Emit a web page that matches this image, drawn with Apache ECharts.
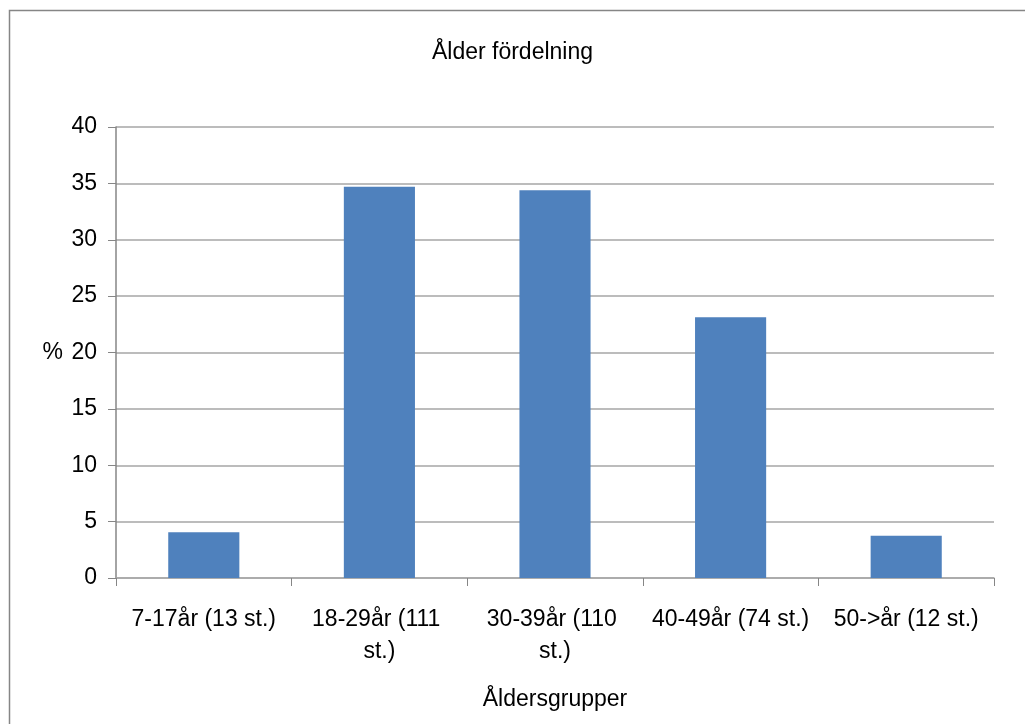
<!DOCTYPE html>
<html>
<head>
<meta charset="utf-8">
<script src="https://cdn.jsdelivr.net/npm/echarts@6/dist/echarts.min.js"></script>
<style>
html,body{margin:0;padding:0;background:#fff;}
#chart{width:1025px;height:724px;}
</style>
</head>
<body>
<div id="chart"></div>
<script>
const titleText = 'Ålder fördelning';
const categories = ['7-17år (13 st.)', '18-29år (111 st.)', '30-39år (110 st.)', '40-49år (74 st.)', '50->år (12 st.)'];
const percentValues = [4.06, 34.69, 34.38, 23.13, 3.75];
const yTicks = { min: 0, max: 40, interval: 5 };
const xAxisName = 'Åldersgrupper';
const yAxisName = '%';

const FONT = '"Liberation Sans", Arial, sans-serif';
const FS = 23;
const chart = echarts.init(document.getElementById('chart'), null, { renderer: 'canvas' });
chart.setOption({
  backgroundColor: '#ffffff',
  animation: false,
  title: {
    text: titleText,
    left: 'center',
    top: 36,
    textStyle: { fontFamily: FONT, fontSize: FS, fontWeight: 'normal', color: '#000' }
  },
  graphic: [{
    type: 'rect',
    shape: { x: 9.5, y: 10.5, width: 1100, height: 800 },
    style: { fill: 'none', stroke: '#868686', lineWidth: 1.5 },
    silent: true
  }],
  grid: { left: 116, right: 31, top: 127, bottom: 146, containLabel: false },
  xAxis: {
    type: 'category',
    data: categories,
    name: xAxisName,
    nameLocation: 'middle',
    nameGap: 110,
    nameTextStyle: { fontFamily: FONT, fontSize: FS, color: '#000' },
    axisLine: { lineStyle: { color: '#a6a6a6', width: 1.5 } },
    axisTick: { show: true, alignWithLabel: false, length: 8, lineStyle: { color: '#868686' } },
    axisLabel: {
      fontFamily: FONT, fontSize: FS, color: '#000',
      margin: 26, lineHeight: 32,
      width: 175, overflow: 'break', interval: 0
    }
  },
  yAxis: {
    type: 'value',
    min: yTicks.min, max: yTicks.max, interval: yTicks.interval,
    name: yAxisName,
    nameLocation: 'middle',
    nameRotate: 0,
    nameGap: 53,
    nameTextStyle: { fontFamily: FONT, fontSize: FS, color: '#000' },
    axisLine: { show: true, lineStyle: { color: '#868686', width: 1.5 } },
    axisTick: { show: true, length: 8, lineStyle: { color: '#868686' } },
    axisLabel: { fontFamily: FONT, fontSize: FS, color: '#000', margin: 19 },
    splitLine: { lineStyle: { color: '#a6a6a6', width: 1.5 } }
  },
  series: [{
    type: 'bar',
    data: percentValues,
    barWidth: '40.5%',
    itemStyle: { color: '#4f81bd' }
  }]
});
</script>
</body>
</html>
